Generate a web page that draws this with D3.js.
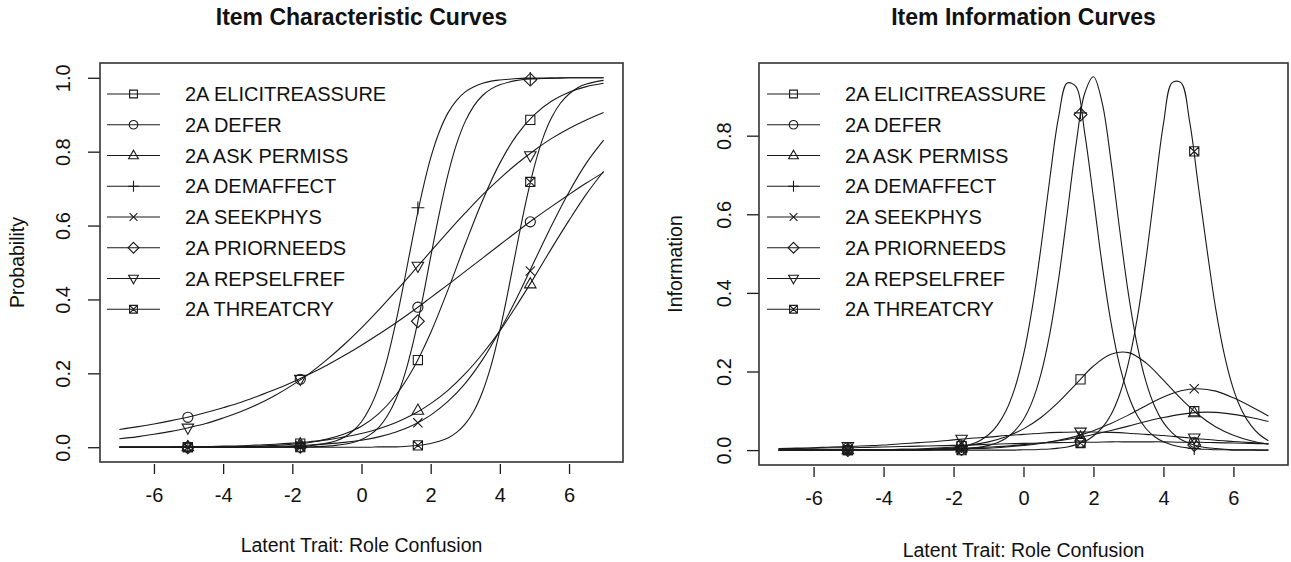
<!DOCTYPE html>
<html><head><meta charset="utf-8">
<script src="https://cdn.jsdelivr.net/npm/d3@7"></script>
<style>body{margin:0;background:#fff}svg{display:block}text{font-family:"Liberation Sans",Arial,sans-serif;fill:#111}</style>
</head><body><svg id="chart" width="1291" height="562"></svg>
<script>
// ---------------- data ----------------
const itemNames = ["2A ELICITREASSURE","2A DEFER","2A ASK PERMISS","2A DEMAFFECT","2A SEEKPHYS","2A PRIORNEEDS","2A REPSELFREF","2A THREATCRY"];
const xTicks = [-6,-4,-2,0,2,4,6];
const probTicks = [0,0.2,0.4,0.6,0.8,1.0];
const infoTicks = [0,0.2,0.4,0.6,0.8];

const thetaCoarse = [-7,-6.5,-6,-5.5,-5,-4.5,-4,-3.5,-3,-2.5,-2,-1.5,-1,-0.5,0,0.5,1,1.5,2,2.5,3,3.5,4,4.5,5,5.5,6,6.5,7];
const thetaFine = [-7,-6.75,-6.5,-6.25,-6,-5.75,-5.5,-5.25,-5,-4.75,-4.5,-4.25,-4,-3.75,-3.5,-3.25,-3,-2.75,-2.5,-2.25,-2,-1.75,-1.5,-1.25,-1,-0.75,-0.5,-0.25,0,0.25,0.5,0.75,1,1.25,1.5,1.75,2,2.25,2.5,2.75,3,3.25,3.5,3.75,4,4.25,4.5,4.75,5,5.25,5.5,5.75,6,6.25,6.5,6.75,7];
const markerTheta = [-5.02,-1.77,1.63,4.88];

// Item characteristic curves (probability)
const probElicit = [0,0,0,0,0,.001,.001,.002,.003,.005,.008,.013,.022,.036,.057,.091,.142,.214,.310,.426,.550,.668,.769,.846,.900,.937,.961,.976,.985];
const probDefer = [.048,.055,.063,.072,.082,.094,.107,.121,.138,.156,.176,.198,.222,.248,.276,.306,.337,.370,.405,.440,.476,.512,.548,.584,.619,.652,.684,.715,.744];
const probAsk = [.001,.001,.001,.001,.002,.002,.003,.004,.006,.008,.011,.015,.020,.028,.037,.050,.067,.089,.118,.154,.199,.253,.315,.386,.461,.539,.614,.685,.747];
const probDemaffect = [0,0,0,0,0,0,0,0,0,0,0,0,0,0,0,0,0,0,.001,.001,.002,.002,.004,.007,.011,.017,.027,.044,.069,.108,.164,.241,.341,.456,.577,.689,.783,.854,.905,.939,.962,.976,.985,.991,.994,.996,.998,.999,.999,.999,.999,1,1,1,1,1,1];
const probSeekphys = [0,0,0,0,0,.001,.001,.001,.002,.003,.004,.006,.009,.013,.019,.028,.041,.060,.087,.124,.173,.237,.316,.406,.504,.601,.691,.769,.831];
const probPriorneeds = [0,0,0,0,0,0,0,0,0,0,0,0,0,0,0,0,0,0,0,0,0,.001,.001,.002,.003,.005,.008,.013,.021,.034,.054,.085,.131,.197,.286,.394,.515,.633,.738,.821,.882,.924,.952,.970,.981,.988,.993,.996,.997,.998,.999,.999,1,1,1,1,1];
const probRepselfref = [.023,.028,.035,.043,.053,.064,.079,.096,.116,.140,.168,.200,.237,.278,.323,.372,.423,.476,.530,.583,.634,.683,.727,.768,.804,.836,.863,.886,.906];
const probThreatcry = [0,0,0,0,0,0,0,0,0,0,0,0,0,0,0,0,0,0,0,0,0,0,0,0,0,0,0,0,0,0,.001,.001,.001,.002,.004,.006,.010,.016,.025,.040,.063,.098,.150,.222,.316,.428,.548,.663,.761,.838,.893,.931,.956,.973,.983,.989,.993];

// Item information curves
const infoElicit = [0,0,0,0,0,.001,.001,.002,.003,.005,.008,.013,.021,.034,.054,.083,.122,.168,.214,.244,.248,.222,.178,.131,.090,.059,.038,.024,.015];
const infoDefer = [.004,.004,.005,.006,.006,.007,.008,.009,.010,.011,.012,.013,.015,.016,.017,.018,.019,.020,.020,.021,.021,.021,.021,.020,.020,.019,.018,.017,.016];
const infoAsk = [0,0,0,0,.001,.001,.001,.002,.002,.003,.004,.006,.008,.010,.014,.018,.024,.031,.040,.050,.061,.073,.083,.091,.096,.096,.091,.083,.073];
const infoDemaffect = [0,0,0,0,0,0,0,0,0,0,0,0,0,0,0,.001,.001,.001,.002,.004,.006,.009,.015,.024,.039,.063,.100,.157,.242,.362,.516,.689,.846,.934,.925,.806,.641,.470,.325,.215,.139,.088,.055,.034,.021,.013,.008,.005,.003,.002,.001,.001,0,0,0,0,0];
const infoSeekphys = [0,0,0,0,0,0,.001,.001,.001,.002,.002,.004,.005,.008,.012,.017,.025,.035,.049,.068,.089,.113,.135,.151,.156,.150,.133,.111,.087];
const infoPriorneeds = [0,0,0,0,0,0,0,0,0,0,0,0,0,0,0,0,0,0,.001,.001,.002,.003,.004,.007,.012,.019,.030,.049,.078,.124,.194,.295,.433,.602,.776,.908,.950,.883,.736,.560,.397,.267,.174,.111,.070,.044,.027,.017,.010,.006,.004,.002,.001,.001,.001,0,0];
const infoRepselfref = [.004,.005,.006,.008,.009,.011,.013,.016,.019,.022,.026,.030,.033,.037,.040,.043,.045,.046,.046,.045,.043,.040,.037,.033,.029,.025,.022,.019,.016];
const infoThreatcry = [0,0,0,0,0,0,0,0,0,0,0,0,0,0,0,0,0,0,0,0,0,0,0,0,0,0,0,0,.001,.001,.002,.003,.005,.008,.014,.022,.036,.057,.090,.142,.222,.335,.485,.660,.830,.935,.935,.835,.670,.507,.356,.239,.155,.099,.063,.039,.024];

// marker values at markerTheta
const probMarkElicit = [0,.010,.236,.886];
const probMarkDefer = [.081,.184,.379,.610];
const probMarkAsk = [.001,.009,.100,.442];
const probMarkDemaffect = [0,.002,.648,.998];
const probMarkSeekphys = [0,.004,.066,.477];
const probMarkPriorneeds = [0,.001,.341,.995];
const probMarkRepselfref = [.052,.184,.490,.789];
const probMarkThreatcry = [0,0,.005,.718];
const infoMarkElicit = [0,.010,.180,.099];
const infoMarkDefer = [.006,.013,.020,.020];
const infoMarkAsk = [.001,.005,.033,.095];
const infoMarkDemaffect = [0,.009,.858,.004];
const infoMarkSeekphys = [0,.003,.038,.156];
const infoMarkPriorneeds = [0,.003,.854,.013];
const infoMarkRepselfref = [.009,.028,.046,.031];
const infoMarkThreatcry = [0,0,.018,.760];

// ---------------- assemble ----------------
const symbolKinds = ["square","circle","triUp","plus","cross","diamond","triDown","squareX"];
const probSeries = [
  [thetaCoarse, probElicit, probMarkElicit],
  [thetaCoarse, probDefer, probMarkDefer],
  [thetaCoarse, probAsk, probMarkAsk],
  [thetaFine, probDemaffect, probMarkDemaffect],
  [thetaCoarse, probSeekphys, probMarkSeekphys],
  [thetaFine, probPriorneeds, probMarkPriorneeds],
  [thetaCoarse, probRepselfref, probMarkRepselfref],
  [thetaFine, probThreatcry, probMarkThreatcry]
];
const infoSeries = [
  [thetaCoarse, infoElicit, infoMarkElicit],
  [thetaCoarse, infoDefer, infoMarkDefer],
  [thetaCoarse, infoAsk, infoMarkAsk],
  [thetaFine, infoDemaffect, infoMarkDemaffect],
  [thetaCoarse, infoSeekphys, infoMarkSeekphys],
  [thetaFine, infoPriorneeds, infoMarkPriorneeds],
  [thetaCoarse, infoRepselfref, infoMarkRepselfref],
  [thetaFine, infoThreatcry, infoMarkThreatcry]
];

function symbolPath(kind, r){
  const s = r;
  switch(kind){
    case "square": return `M${-s},${-s}H${s}V${s}H${-s}Z`;
    case "circle": return `M${s*1.1},0A${s*1.1},${s*1.1} 0 1,1 ${-s*1.1},0A${s*1.1},${s*1.1} 0 1,1 ${s*1.1},0Z`;
    case "triUp": return `M0,${-s*1.35}L${s*1.25},${s*0.85}L${-s*1.25},${s*0.85}Z`;
    case "triDown": return `M0,${s*1.35}L${s*1.25},${-s*0.85}L${-s*1.25},${-s*0.85}Z`;
    case "plus": return `M${-s*1.4},0H${s*1.4}M0,${-s*1.4}V${s*1.4}`;
    case "cross": return `M${-s},${-s}L${s},${s}M${-s},${s}L${s},${-s}`;
    case "diamond": return `M0,${-s*1.4}L${s*1.4},0L0,${s*1.4}L${-s*1.4},0Z`;
    case "squareX": return `M${-s},${-s}H${s}V${s}H${-s}ZM${-s},${-s}L${s},${s}M${-s},${s}L${s},${-s}`;
  }
}

const svg = d3.select("#chart");
const ink = "#1a1a1a";

function panel(cfg){
  const g = svg.append("g");
  const x = d3.scaleLinear().domain([-7.56,7.56]).range([cfg.left,cfg.right]);
  const y = d3.scaleLinear().domain(cfg.ydom).range([cfg.bottom,cfg.top]);

  // title
  g.append("text").attr("x",(cfg.left+cfg.right)/2).attr("y",25).attr("text-anchor","middle")
    .style("font-size","23px").style("font-weight","bold").text(cfg.title);

  // x axis
  const xa = g.append("g").attr("transform",`translate(0,${cfg.bottom+2})`)
    .call(d3.axisBottom(x).tickValues(xTicks).tickSize(10).tickPadding(14).tickFormat(d=>String(d)));
  xa.select(".domain").remove();
  xa.selectAll("line").attr("stroke",ink).attr("stroke-width",1.3);
  xa.selectAll("text").style("font-size","20px").style("font-family","Liberation Sans, Arial, sans-serif").attr("fill","#111");

  // y axis
  const ya = g.append("g").attr("transform",`translate(${cfg.left},0)`)
    .call(d3.axisLeft(y).tickValues(cfg.yticks).tickSize(12).tickFormat(d3.format(".1f")));
  ya.select(".domain").remove();
  ya.selectAll("line").attr("stroke",ink).attr("stroke-width",1.3);
  ya.selectAll("text").remove();
  ya.selectAll(".tick").append("text")
    .attr("transform",`translate(${cfg.ylabX-cfg.left},0) rotate(-90)`)
    .attr("text-anchor","middle").attr("dy","0.35em")
    .style("font-size","20px").attr("fill","#111")
    .text(d=>d3.format(".1f")(d));

  // axis titles
  g.append("text").attr("x",(cfg.left+cfg.right)/2).attr("y",cfg.xTitleY).attr("text-anchor","middle")
    .style("font-size","19.5px").text("Latent Trait: Role Confusion");
  g.append("text").attr("transform",`translate(${cfg.yTitleX},${(cfg.top+cfg.bottom)/2}) rotate(-90)`)
    .attr("text-anchor","middle").style("font-size","19.5px").text(cfg.ytitle);

  // box
  g.append("rect").attr("x",cfg.left).attr("y",cfg.top).attr("width",cfg.right-cfg.left).attr("height",cfg.bottom-cfg.top)
    .attr("fill","none").attr("stroke","#333").attr("stroke-width",1.6);

  // curves
  const line = d3.line().x(d=>x(d[0])).y(d=>y(d[1])).curve(d3.curveCatmullRom.alpha(0.5));
  cfg.series.forEach((s,i)=>{
    const pts = s[0].map((t,j)=>[t,s[1][j]]);
    g.append("path").attr("d",line(pts)).attr("fill","none").attr("stroke",ink).attr("stroke-width",1.1);
  });
  // markers
  cfg.series.forEach((s,i)=>{
    markerTheta.forEach((t,j)=>{
      g.append("path").attr("d",symbolPath(symbolKinds[i],4.6))
        .attr("transform",`translate(${x(t)},${y(s[2][j])})`)
        .attr("fill","none").attr("stroke",ink).attr("stroke-width",1.1);
    });
  });

  // legend
  itemNames.forEach((name,i)=>{
    const ly = 94 + i*30.75;
    g.append("line").attr("x1",cfg.legX).attr("x2",cfg.legX+53).attr("y1",ly).attr("y2",ly)
      .attr("stroke",ink).attr("stroke-width",1.2);
    g.append("path").attr("d",symbolPath(symbolKinds[i],3.9)).attr("transform",`translate(${cfg.legX+26.5},${ly})`)
      .attr("fill","none").attr("stroke",ink).attr("stroke-width",1.1);
    g.append("text").attr("x",cfg.legX+78).attr("y",ly).attr("dy","0.36em")
      .style("font-size","20px").text(name);
  });
}

panel({left:100,right:623,top:63,bottom:462,ydom:[-0.04,1.04],yticks:probTicks,ylabX:63,yTitleX:24,
  xTitleY:552,title:"Item Characteristic Curves",ytitle:"Probability",series:probSeries,legX:107});
panel({left:759,right:1288,top:63,bottom:465,ydom:[-0.0379,0.9849],yticks:infoTicks,ylabX:724,yTitleX:682,
  xTitleY:557,title:"Item Information Curves",ytitle:"Information",series:infoSeries,legX:767});
</script></body></html>
